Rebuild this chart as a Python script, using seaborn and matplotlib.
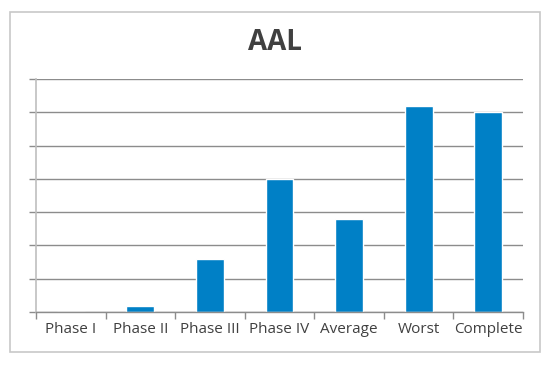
import matplotlib
matplotlib.use("Agg")
import matplotlib.pyplot as plt
import seaborn as sns
import numpy as np
from matplotlib.patches import Rectangle
from matplotlib.ticker import FixedLocator

categories = ["Phase I", "Phase II", "Phase III", "Phase IV", "Average", "Worst", "Complete"]
values = [0.0, 0.18, 1.6, 4.0, 2.8, 6.2, 6.0]

sns.set_theme(style="white")
plt.rcParams['font.family'] = ['Open Sans', 'DejaVu Sans']

fig = plt.figure(figsize=(5.5, 3.65), dpi=100)
ax = fig.add_axes([36/550, 1-312/365, (523-36)/550, (312-79)/365])

sns.barplot(x=categories, y=values, color="#0080C6", width=0.4, saturation=1, ax=ax)

ax.set_ylim(0, 7)
ax.set_xlim(-0.5, len(categories)-0.5)
ax.set_yticks(np.arange(0, 8, 1))
ax.set_yticklabels([])
ax.yaxis.grid(True, color="#8C8C8C", linewidth=1)
ax.set_axisbelow(True)
ax.tick_params(axis="y", length=5, color="#8C8C8C", width=1, left=True)
ax.tick_params(axis="x", which="major", length=0, pad=7, labelsize=11, labelcolor="#404040")
ax.xaxis.set_minor_locator(FixedLocator(np.arange(-0.5, len(categories), 1)))
ax.tick_params(axis="x", which="minor", length=5, color="#8C8C8C", width=1, bottom=True, direction="out")
ax.set_xlabel("")
ax.set_ylabel("")

for s in ["top", "right"]:
    ax.spines[s].set_visible(False)
ax.spines["left"].set_color("#BFBFBF")
ax.spines["left"].set_linewidth(1.2)
ax.spines["bottom"].set_color("#8C8C8C")
ax.spines["bottom"].set_linewidth(1)

fig.text(0.5, 1-42/365, "AAL", ha="center", va="center", fontsize=20, fontweight="bold", color="#404040")

fig.patches.append(Rectangle((10/550, 1-352/365), 530/550, 340/365, transform=fig.transFigure,
                             fill=False, edgecolor="#C8C8C8", linewidth=1.2))

fig.savefig("out.png", dpi=100)
